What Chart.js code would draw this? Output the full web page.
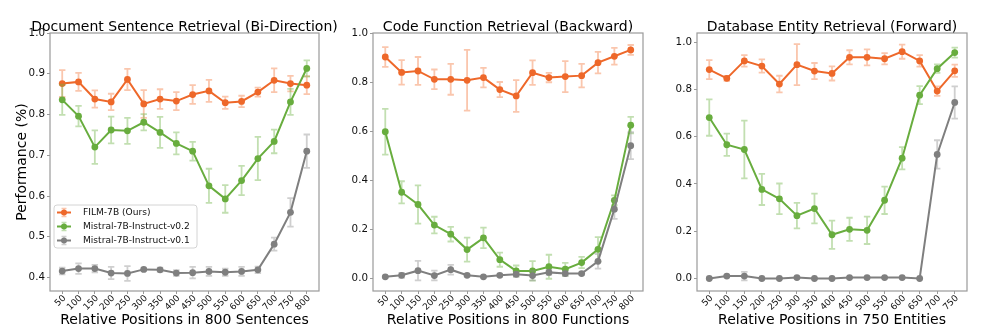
<!DOCTYPE html>
<html><head><meta charset="utf-8">
<script src="https://cdn.jsdelivr.net/npm/chart.js@4.4.1/dist/chart.umd.min.js"></script>
<style>
html,body{margin:0;padding:0;background:#fff;}
body{width:997px;height:332px;overflow:hidden;position:relative;}
.p{position:absolute;top:0;height:332px;}
canvas{display:block;}
</style></head>
<body>
<div class="p" style="left:0;width:345px"><canvas id="c1" width="345" height="332"></canvas></div>
<div class="p" style="left:345px;width:325px"><canvas id="c2" width="325" height="332"></canvas></div>
<div class="p" style="left:670px;width:327px"><canvas id="c3" width="327" height="332"></canvas></div>
<script>
// ---------- data ----------
const seriesNames = ['FILM-7B (Ours)', 'Mistral-7B-Instruct-v0.2', 'Mistral-7B-Instruct-v0.1'];
const pos800 = [50,100,150,200,250,300,350,400,450,500,550,600,650,700,750,800];
const pos750 = [50,100,150,200,250,300,350,400,450,500,550,600,650,700,750];

const sentTicksY = [0.4,0.5,0.6,0.7,0.8,0.9,1.0];
const sentFilm    = [0.876,0.880,0.838,0.831,0.886,0.826,0.838,0.833,0.849,0.858,0.829,0.832,0.855,0.884,0.876,0.872];
const sentFilmErr = [0.033,0.022,0.021,0.020,0.026,0.034,0.024,0.022,0.023,0.027,0.015,0.014,0.011,0.029,0.019,0.022];
const sentV2      = [0.836,0.796,0.720,0.762,0.760,0.781,0.756,0.729,0.710,0.625,0.593,0.638,0.692,0.734,0.831,0.913];
const sentV2Err   = [0.037,0.025,0.041,0.033,0.032,0.020,0.038,0.027,0.023,0.042,0.034,0.036,0.053,0.029,0.032,0.020];
const sentV1      = [0.416,0.422,0.422,0.411,0.410,0.420,0.419,0.411,0.412,0.415,0.413,0.415,0.419,0.482,0.560,0.710];
const sentV1Err   = [0.008,0.013,0.009,0.015,0.018,0.003,0.005,0.007,0.014,0.011,0.009,0.011,0.008,0.016,0.035,0.041];

const codeTicksY = [0.0,0.2,0.4,0.6,0.8,1.0];
const codeFilm    = [0.902,0.839,0.845,0.811,0.811,0.807,0.818,0.769,0.743,0.838,0.818,0.822,0.826,0.879,0.905,0.931];
const codeFilmErr = [0.040,0.050,0.057,0.040,0.063,0.124,0.040,0.031,0.065,0.050,0.019,0.063,0.048,0.044,0.034,0.020];
const codeV2      = [0.597,0.350,0.300,0.216,0.179,0.116,0.164,0.075,0.029,0.029,0.046,0.036,0.063,0.117,0.317,0.624];
const codeV2Err   = [0.093,0.045,0.078,0.034,0.030,0.049,0.042,0.029,0.022,0.040,0.049,0.026,0.023,0.050,0.020,0.034];
const codeV1      = [0.005,0.011,0.030,0.010,0.034,0.011,0.005,0.011,0.015,0.010,0.023,0.018,0.018,0.068,0.281,0.540];
const codeV1Err   = [0.004,0.010,0.040,0.020,0.020,0.005,0.003,0.005,0.010,0.020,0.010,0.010,0.005,0.030,0.040,0.055];

const entTicksY = [0.0,0.2,0.4,0.6,0.8,1.0];
const entFilm    = [0.884,0.847,0.921,0.899,0.823,0.905,0.878,0.868,0.936,0.936,0.930,0.960,0.921,0.793,0.879];
const entFilmErr = [0.040,0.010,0.024,0.028,0.035,0.087,0.034,0.030,0.030,0.034,0.024,0.030,0.024,0.020,0.026];
const entV2      = [0.681,0.566,0.546,0.377,0.337,0.266,0.296,0.185,0.208,0.204,0.331,0.509,0.776,0.888,0.956];
const entV2Err   = [0.077,0.047,0.122,0.066,0.065,0.054,0.063,0.060,0.049,0.058,0.058,0.047,0.038,0.018,0.021];
const entV1      = [0.000,0.010,0.010,0.000,0.000,0.004,0.000,0.000,0.004,0.004,0.004,0.004,0.000,0.525,0.745];
const entV1Err   = [0.003,0.005,0.018,0.002,0.002,0.003,0.002,0.002,0.003,0.003,0.003,0.003,0.002,0.060,0.068];

// ---------- style ----------
const FONT = "'DejaVu Sans', sans-serif";
const LINE_COLORS = ['#ee682a', '#68ad3e', '#7f7f7f'];
const ERR_COLORS = ['rgba(242,120,60,0.42)', 'rgba(110,178,70,0.42)', 'rgba(140,140,140,0.42)'];
const SPINE = '#9a9a9a';
const TEXT = '#111';

const errorBarPlugin = {
  id: 'errbars',
  beforeDatasetDraw(chart, args) {
    const ds = chart.data.datasets[args.index];
    if (!ds.errors) return;
    const ys = chart.scales.y, ctx = chart.ctx;
    ctx.save();
    ctx.strokeStyle = ds.errorColor;
    ctx.lineWidth = 1.8;
    ctx.beginPath();
    args.meta.data.forEach((pt, j) => {
      const v = ds.data[j].y, e = ds.errors[j];
      const yt = ys.getPixelForValue(v + e), yb = ys.getPixelForValue(v - e);
      ctx.moveTo(pt.x, yt); ctx.lineTo(pt.x, yb);
      ctx.moveTo(pt.x - 3.2, yt); ctx.lineTo(pt.x + 3.2, yt);
      ctx.moveTo(pt.x - 3.2, yb); ctx.lineTo(pt.x + 3.2, yb);
    });
    ctx.stroke();
    ctx.restore();
  }
};

const framePlugin = {
  id: 'frame',
  afterDatasetsDraw(chart) {
    const a = chart.chartArea, ctx = chart.ctx;
    ctx.save();
    ctx.strokeStyle = SPINE; ctx.lineWidth = 1.2;
    ctx.strokeRect(a.left, a.top, a.right - a.left, a.bottom - a.top);
    ctx.restore();
  }
};

// axes title, centred over the plot area (matplotlib style)
const panelTitlePlugin = {
  id: 'panelTitle',
  afterDraw(chart, args, opts) {
    if (!opts || !opts.text) return;
    const a = chart.chartArea, ctx = chart.ctx;
    ctx.save();
    ctx.font = '14px ' + FONT;
    ctx.fillStyle = '#000';
    ctx.textAlign = 'center';
    ctx.textBaseline = 'alphabetic';
    ctx.fillText(opts.text, (a.left + a.right) / 2, a.top - 2.5);
    ctx.restore();
  }
};

const legendPlugin = {
  id: 'customLegend',
  afterDraw(chart, args, opts) {
    if (!opts || !opts.show) return;
    const a = chart.chartArea, ctx = chart.ctx;
    const x0 = a.left + 4, y0 = a.top + 172, w = 143, h = 43;
    ctx.save();
    ctx.fillStyle = 'rgba(255,255,255,0.85)';
    ctx.strokeStyle = '#d4d4d4'; ctx.lineWidth = 1;
    const r = 3;
    ctx.beginPath();
    ctx.moveTo(x0 + r, y0); ctx.lineTo(x0 + w - r, y0); ctx.arcTo(x0 + w, y0, x0 + w, y0 + r, r);
    ctx.lineTo(x0 + w, y0 + h - r); ctx.arcTo(x0 + w, y0 + h, x0 + w - r, y0 + h, r);
    ctx.lineTo(x0 + r, y0 + h); ctx.arcTo(x0, y0 + h, x0, y0 + h - r, r);
    ctx.lineTo(x0, y0 + r); ctx.arcTo(x0, y0, x0 + r, y0, r);
    ctx.closePath(); ctx.fill(); ctx.stroke();
    ctx.font = '9.1px ' + FONT; ctx.textBaseline = 'middle'; ctx.fillStyle = TEXT;
    seriesNames.forEach((name, i) => {
      const yy = y0 + 7.5 + i * 14;
      const lx0 = x0 + 3, lx1 = x0 + 17, mx = (lx0 + lx1) / 2;
      ctx.strokeStyle = ERR_COLORS[i]; ctx.lineWidth = 1.5;
      ctx.beginPath(); ctx.moveTo(mx, yy - 4); ctx.lineTo(mx, yy + 4);
      ctx.moveTo(mx - 2.5, yy - 4); ctx.lineTo(mx + 2.5, yy - 4);
      ctx.moveTo(mx - 2.5, yy + 4); ctx.lineTo(mx + 2.5, yy + 4); ctx.stroke();
      ctx.strokeStyle = LINE_COLORS[i]; ctx.lineWidth = 2;
      ctx.beginPath(); ctx.moveTo(lx0, yy); ctx.lineTo(lx1, yy); ctx.stroke();
      ctx.fillStyle = LINE_COLORS[i];
      ctx.beginPath(); ctx.arc(mx, yy, 3, 0, Math.PI * 2); ctx.fill();
      ctx.fillStyle = TEXT;
      ctx.fillText(name, x0 + 29, yy + 0.5);
    });
    ctx.restore();
  }
};

function pts(xs, ys) { return xs.map((x, i) => ({x: x, y: ys[i]})); }

function makeChart(id, cfg) {
  const datasets = cfg.series.map((s, i) => ({
    label: seriesNames[i],
    data: pts(cfg.pos, s.v),
    errors: s.e,
    errorColor: ERR_COLORS[i],
    borderColor: LINE_COLORS[i],
    backgroundColor: LINE_COLORS[i],
    borderWidth: 2,
    pointRadius: 3.4,
    pointBorderWidth: 0,
    pointHoverRadius: 3.4,
    tension: 0,
    order: 3 - i
  }));
  const span = cfg.pos[cfg.pos.length - 1] - cfg.pos[0];
  const yTickFont = {family: FONT, size: 10.3};
  const xTickFont = {family: FONT, size: 9};
  const titleFont = {family: FONT, size: 14, weight: 'normal', lineHeight: 1.2};
  return new Chart(document.getElementById(id), {
    type: 'line',
    data: {datasets},
    options: {
      responsive: false, animation: false, devicePixelRatio: 1,
      layout: {padding: {left: 0, right: cfg.padR, top: 33, bottom: 0}},
      plugins: {
        legend: {display: false}, tooltip: {enabled: false}, title: {display: false},
        panelTitle: {text: cfg.title},
        customLegend: {show: !!cfg.legend}
      },
      scales: {
        x: {
          type: 'linear', min: cfg.pos[0] - 0.05 * span, max: cfg.pos[cfg.pos.length - 1] + 0.05 * span,
          afterBuildTicks: s => { s.ticks = cfg.pos.map(v => ({value: v})); },
          afterFit: s => { s.height = 41; },
          ticks: {autoSkip: false, minRotation: 45, maxRotation: 45, font: xTickFont, color: TEXT,
                  padding: -1, labelOffset: 2.3, callback: v => String(v)},
          grid: {drawOnChartArea: false, drawTicks: true, tickLength: 3, color: SPINE},
          border: {display: false},
          title: {display: true, text: cfg.xTitle, color: '#000', font: titleFont, padding: {top: 0, bottom: 3.3}}
        },
        y: {
          type: 'linear', min: cfg.yMin, max: cfg.yMax,
          afterBuildTicks: s => { s.ticks = cfg.yTicks.map(v => ({value: v})); },
          afterFit: s => { s.width = cfg.yW; },
          ticks: {font: yTickFont, color: TEXT, padding: 2, callback: v => v.toFixed(1)},
          grid: {drawOnChartArea: false, drawTicks: true, tickLength: 3, color: SPINE},
          border: {display: false},
          title: {display: !!cfg.yTitle, text: cfg.yTitle || '', color: '#000', font: titleFont,
                  padding: {top: 13.6, bottom: 0}}
        }
      }
    },
    plugins: [errorBarPlugin, framePlugin, panelTitlePlugin, legendPlugin]
  });
}

makeChart('c1', {
  title: 'Document Sentence Retrieval (Bi-Direction)', xTitle: 'Relative Positions in 800 Sentences',
  yTitle: 'Performance (%)', legend: true, pos: pos800, yMin: 0.367, yMax: 1.0, yTicks: sentTicksY,
  yW: 50, padR: 26,
  series: [{v: sentFilm, e: sentFilmErr}, {v: sentV2, e: sentV2Err}, {v: sentV1, e: sentV1Err}]
});
makeChart('c2', {
  title: 'Code Function Retrieval (Backward)', xTitle: 'Relative Positions in 800 Functions',
  pos: pos800, yMin: -0.053, yMax: 1.0, yTicks: codeTicksY, yW: 28, padR: 27,
  series: [{v: codeFilm, e: codeFilmErr}, {v: codeV2, e: codeV2Err}, {v: codeV1, e: codeV1Err}]
});
makeChart('c3', {
  title: 'Database Entity Retrieval (Forward)', xTitle: 'Relative Positions in 750 Entities',
  pos: pos750, yMin: -0.053, yMax: 1.039, yTicks: entTicksY, yW: 27, padR: 30,
  series: [{v: entFilm, e: entFilmErr}, {v: entV2, e: entV2Err}, {v: entV1, e: entV1Err}]
});
</script>
</body></html>
